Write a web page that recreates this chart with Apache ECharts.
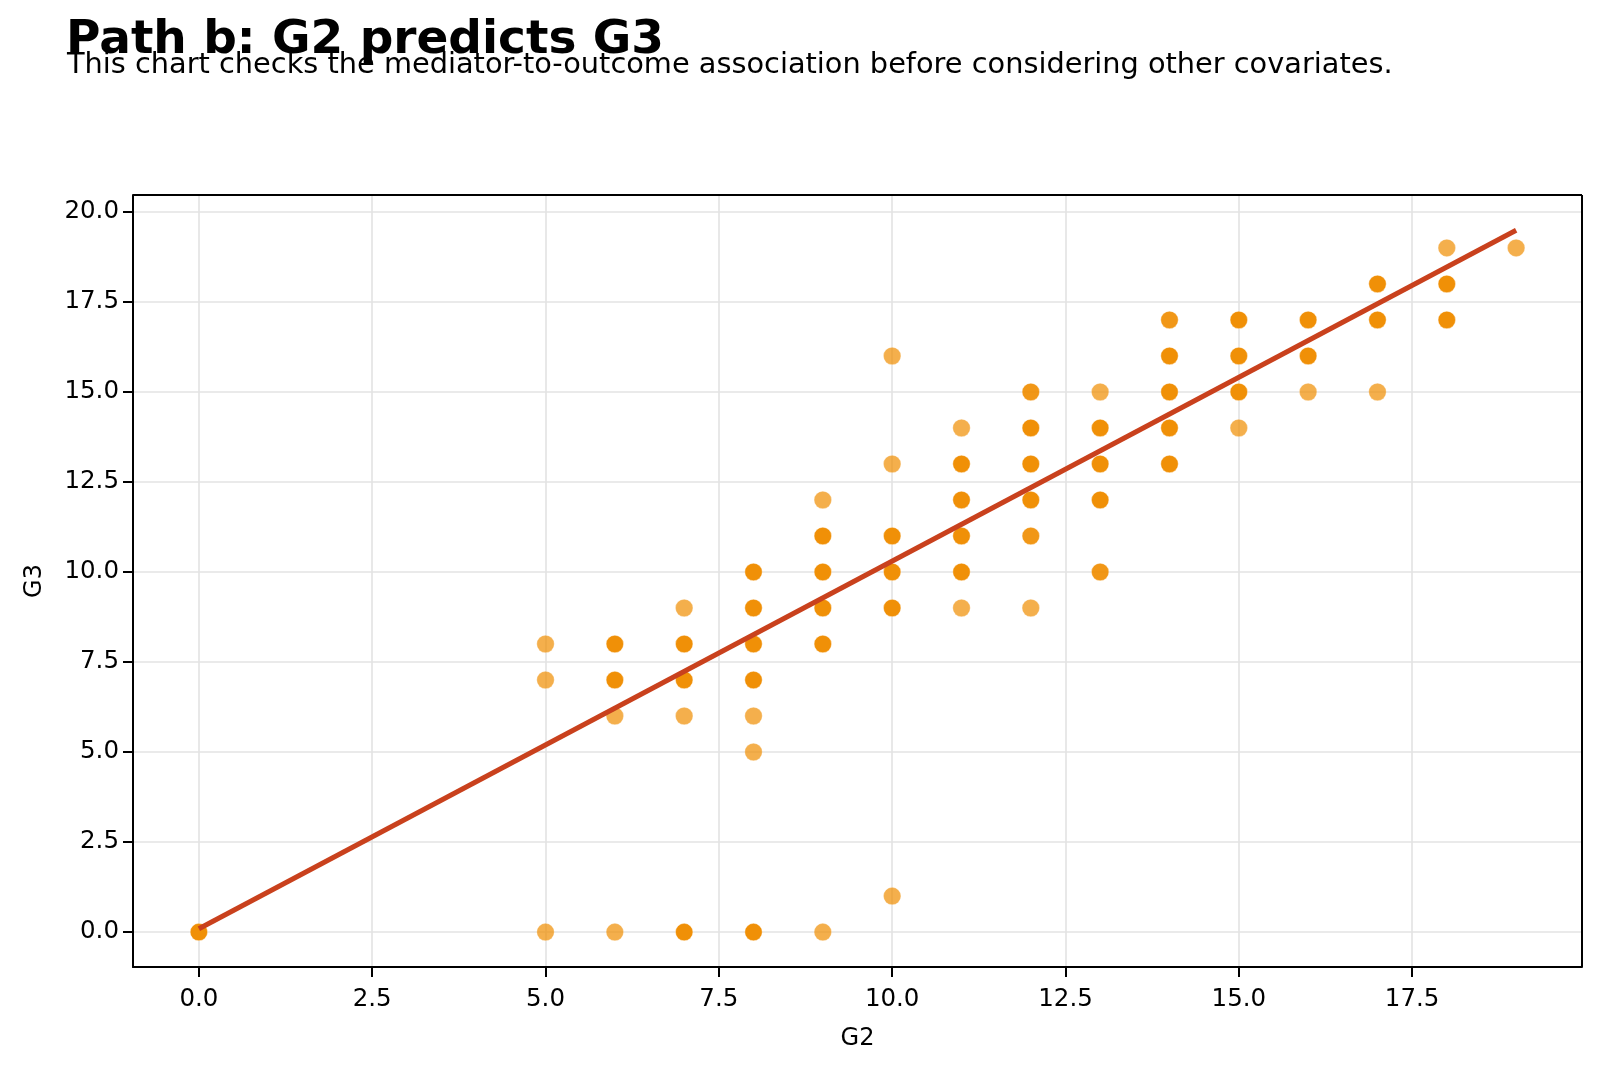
<!DOCTYPE html>
<html>
<head>
<meta charset="utf-8">
<script src="https://cdn.jsdelivr.net/npm/echarts@6/dist/echarts.min.js"></script>
<style>
html,body{margin:0;padding:0;background:#fff;}
#chart{width:1600px;height:1068px;}
</style>
</head>
<body>
<div id="chart"></div>
<script>
// Observed (G2, G3) positions and an estimate of how many students overlap at each
const pointsG2 = [0, 5,5,5, 6,6,6,6, 7,7,7,7,7, 8,8,8,8,8,8,8, 9,9,9,9,9,9, 10,10,10,10,10,10, 11,11,11,11,11,11, 12,12,12,12,12,12, 13,13,13,13,13, 14,14,14,14,14, 15,15,15,15, 16,16,16, 17,17,17, 18,18,18, 19];
const pointsG3 = [0, 8,7,0, 8,7,6,0, 9,8,7,6,0, 10,9,8,7,6,5,0, 12,11,10,9,8,0, 16,13,11,10,9,1, 14,13,12,11,10,9, 15,14,13,12,11,9, 15,14,13,12,10, 17,16,15,14,13, 17,16,15,14, 17,16,15, 18,17,15, 19,18,17, 19];
const pointsCount = [3, 1,1,1, 3,3,1,1, 1,3,3,1,3, 3,3,3,3,1,1,3, 1,3,3,3,3,1, 1,1,3,3,3,1, 1,3,3,3,3,1, 2,3,3,3,2,1, 1,3,3,3,2, 2,3,3,3,3, 3,3,3,1, 3,3,1, 3,3,1, 1,3,3, 1];
// Fitted regression line endpoints
const fitG2 = [0, 19];
const fitG3 = [0.09, 19.49];
// Tick labels
const xTicks = [0, 2.5, 5, 7.5, 10, 12.5, 15, 17.5];
const yTicks = [0, 2.5, 5, 7.5, 10, 12.5, 15, 17.5, 20];

const BASE_ALPHA = 0.7;
const scatterData = pointsG2.map((x, i) => ({
  value: [x, pointsG3[i]],
  itemStyle: { opacity: 1 - Math.pow(1 - BASE_ALPHA, pointsCount[i]) }
}));
const lineData = fitG2.map((x, i) => [x, fitG3[i]]);

const FONT = 'DejaVu Sans';
const chart = echarts.init(document.getElementById('chart'), null, { renderer: 'canvas' });
const gridLine = { show: true, lineStyle: { color: '#e3e3e3', width: 1.6 } };
chart.setOption({
  backgroundColor: '#ffffff',
  animation: false,
  title: [
    { text: 'Path b: G2 predicts G3', left: 61, top: 12,
      textStyle: { fontFamily: FONT, fontSize: 47, fontWeight: 'bold', color: '#000' } },
    { text: 'This chart checks the mediator-to-outcome association before considering other covariates.',
      left: 62, top: 46,
      textStyle: { fontFamily: FONT, fontSize: 28.8, fontWeight: 'normal', color: '#000' } }
  ],
  grid: { left: 133, right: 18, top: 195, bottom: 101, containLabel: false },
  xAxis: {
    type: 'value', min: -0.95, max: 19.95,
    name: 'G2', nameLocation: 'middle', nameGap: 60,
    nameTextStyle: { fontFamily: FONT, fontSize: 24, color: '#000' },
    axisLine: { show: true, onZero: false, lineStyle: { color: '#000', width: 2 } },
    axisTick: { show: true, inside: false, length: 10, lineStyle: { color: '#000', width: 2 }, customValues: xTicks },
    axisLabel: { fontFamily: FONT, fontSize: 24.5, color: '#000', margin: 20, customValues: xTicks,
      formatter: v => Number(v).toFixed(1) },
    splitLine: Object.assign({ customValues: xTicks }, gridLine)
  },
  yAxis: {
    type: 'value', min: -0.97, max: 20.47,
    name: 'G3', nameLocation: 'middle', nameGap: 86, nameRotate: 90,
    nameTextStyle: { fontFamily: FONT, fontSize: 24, color: '#000' },
    axisLine: { show: true, onZero: false, lineStyle: { color: '#000', width: 2 } },
    axisTick: { show: true, inside: false, length: 10, lineStyle: { color: '#000', width: 2 }, customValues: yTicks },
    axisLabel: { fontFamily: FONT, fontSize: 24.5, color: '#000', margin: 14, customValues: yTicks,
      formatter: v => Number(v).toFixed(1) },
    splitLine: Object.assign({ customValues: yTicks }, gridLine)
  },
  series: [
    {
      type: 'scatter', data: scatterData, symbol: 'circle', symbolSize: 17.5,
      itemStyle: { color: 'rgb(240,141,0)', borderColor: 'rgba(255,255,255,0.5)', borderWidth: 0.8 },
      z: 2
    },
    {
      type: 'line', data: lineData, symbol: 'none', smooth: false,
      lineStyle: { color: '#C9411D', width: 5 }, z: 3
    },
    {
      // right/top frame of the axes box
      type: 'line', data: [], silent: true,
      markLine: {
        silent: true, symbol: 'none', label: { show: false },
        lineStyle: { color: '#000', width: 2, type: 'solid' },
        data: [{ xAxis: 19.95 }, { yAxis: 20.47 }]
      }
    }
  ]
});
</script>
</body>
</html>
